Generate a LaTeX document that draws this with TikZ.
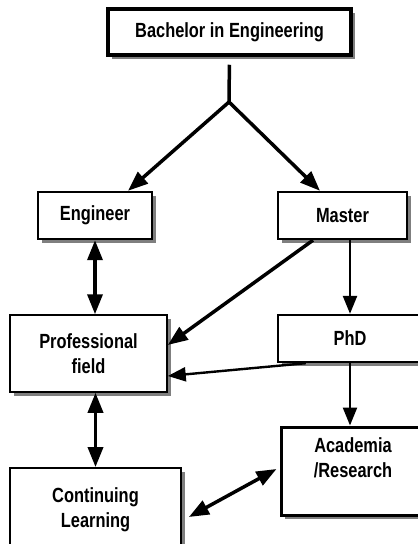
\documentclass[tikz,border=0pt]{standalone}
\usepackage{fontspec}
\setmainfont{Liberation Sans}[FakeStretch=0.8]
\usepackage{tikz}
\usepackage{xcolor}
\usetikzlibrary{arrows.meta,shadows}
\definecolor{shade}{HTML}{7F7F7F}

\tikzset{
    stage/.style={draw,line width=2.4pt,fill=white,align=center,
      font=\fontsize{20.5}{25}\selectfont\bfseries,
      drop shadow={shadow xshift=4pt,shadow yshift=-4pt,fill=shade,opacity=1}},
    link/.style={line width=3.5pt,-{Triangle[length=20pt,width=15pt]}},
    twoway/.style={line width=3.5pt,{Triangle[length=20pt,width=15pt]}-{Triangle[length=20pt,width=15pt]}},
    thinlink/.style={line width=2.4pt,-{Triangle[length=18pt,width=14pt]}}
}

\begin{document}
\begin{tikzpicture}[x=1pt,y=-1pt]
    \useasboundingbox (0,0) rectangle (418,544);
    \clip (0,0) rectangle (418,544);
    \node[stage,line width=3.5pt,minimum width=243pt,minimum height=46pt] (bachelor) at (229.5,32) {Bachelor in Engineering};
    \node[stage,minimum width=114pt,minimum height=47pt] (engineer) at (95,215.5) {Engineer};
    \node[stage,minimum width=129pt,minimum height=47pt] (master) at (342.5,215.5) {Master};
    \node[stage,line width=1.5pt,minimum width=157pt,minimum height=77pt] (professional) at (88.5,353.5) {Professional\\field};
    \node[stage,minimum width=144pt,minimum height=47pt] (phd) at (350,338.5) {PhD};
    \node[stage,line width=3pt,minimum width=144pt,minimum height=88pt] (academia) at (353,471) {Academia\\/Research\\[2pt]~};
    \node[stage,line width=1.8pt,minimum width=171pt,minimum height=84pt] (continuing) at (95.5,510) {Continuing\\Learning};
    \coordinate (split) at (229,102);
    % connectors
    \draw[line width=3.5pt,shorten <=8pt] (bachelor.south) -- (split);
    \draw[link] (split) -- ([xshift=33pt]engineer.north);
    \draw[link] (split) -- ([xshift=-22.5pt]master.north);
    \draw[twoway] (engineer.south) -- (engineer.south |- professional.north);
    \draw[link] ([xshift=-29.5pt]master.south) -- ([yshift=8.5pt]professional.east);
    \draw[thinlink] (phd.north |- master.south) -- (phd.north);
    \draw[thinlink] ([xshift=29pt]phd.south west) -- ([yshift=-22.5pt]professional.east);
    \draw[thinlink] (phd.south) -- (phd.south |- academia.north);
    \draw[twoway] (continuing.north |- professional.south) -- (continuing.north);
    \draw[twoway] ([shift={(7pt,-7pt)}]continuing.east) -- ([shift={(-3pt,2pt)}]academia.west);
\end{tikzpicture}
\end{document}
